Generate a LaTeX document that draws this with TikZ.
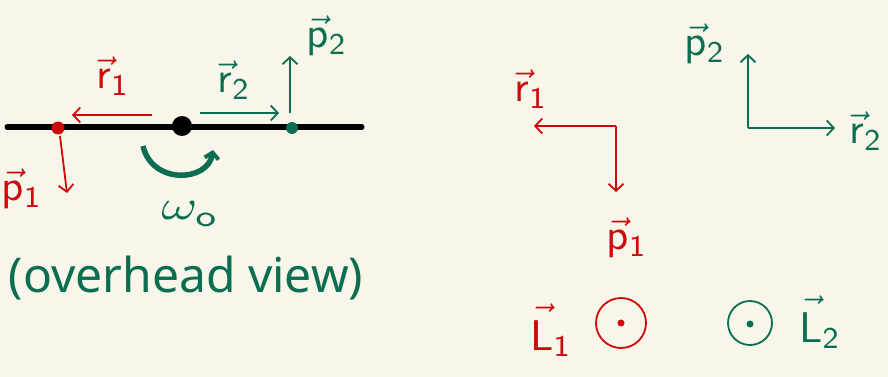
\documentclass[tikz,border=0pt]{standalone}
\usepackage{fontspec}
\setmainfont{Noto Sans}
\usetikzlibrary{arrows.meta}
\definecolor{bg}{HTML}{F8F6EA}
\definecolor{hred}{HTML}{CC0A0A}
\definecolor{hgreen}{HTML}{0B6E50}
\newcommand{\hv}[2]{\scalebox{4.3}{$\vec{\mathsf{#1}}_{\mathsf{#2}}$}}
\newcommand{\hL}[1]{\scalebox{4.3}{$\vec{\raisebox{0pt}[1.15\height]{$\mathsf{L}$}}_{\mathsf{#1}}$}}
\tikzset{
  vec/.style={line width=1.8pt,-{Straight Barb[length=7pt,width=15pt,line width=1.8pt]}},
  lbl/.style={inner sep=0pt},
  dotp/.style={circle,inner sep=0pt,minimum size=#1},
}
\begin{document}
\begin{tikzpicture}[x=1pt,y=-1pt]
\useasboundingbox[fill=bg] (0,0) rectangle (888,377);
% left: rod
\coordinate (rodL) at (7,127);
\coordinate (rodR) at (362,127);
\draw[line width=5pt,line cap=round] (rodL) -- (rodR);
\node[dotp=13pt,fill=hred] (m1) at (58,128) {};
\node[dotp=20pt,fill=black] (c) at (182,126) {};
\node[dotp=12pt,fill=hgreen] (m2) at (292,128) {};
% r vectors
\coordinate (r1s) at (152,115); \coordinate (r1e) at (72,115);
\draw[vec,hred] (r1s) -- (r1e);
\node[lbl,text=hred] (r1l) at (113,76) {\hv{r}{1}};
\coordinate (r2s) at (200,113); \coordinate (r2e) at (279,113);
\draw[vec,hgreen] (r2s) -- (r2e);
\node[lbl,text=hgreen] (r2l) at (234,80) {\hv{r}{2}};
% p vectors
\coordinate (p2s) at (290,113); \coordinate (p2e) at (290,56);
\draw[vec,hgreen] (p2s) -- (p2e);
\node[lbl,text=hgreen] (p2l) at (327,36) {\hv{p}{2}};
\coordinate (p1s) at (60,136); \coordinate (p1e) at (67,193);
\draw[vec,hred] (p1s) -- (p1e);
\node[lbl,text=hred] (p1l) at (22,189) {\hv{p}{1}};
% rotation
\coordinate (w1) at (143,146); \coordinate (w2) at (213,150);
\draw[hgreen,line width=5.5pt,-{Straight Barb[length=6pt,width=14pt,line width=4pt]}]
  (w1) .. controls (152,185) and (208,182) .. (w2);
\node[lbl,text=hgreen] (w) at (190,214) {\scalebox{5.5}[4.2]{$\omega_{\mathsf{o}}$}};
\node[inner sep=0pt,text=hgreen,font=\fontsize{48}{50}\selectfont] (ov) at (186,278) {(overhead view)};
% right: red
\coordinate (rc) at (616,126);
\coordinate (rr) at (534,126);
\coordinate (rp) at (616,192);
\draw[vec,hred] (rc) -- (rr);
\draw[vec,hred] (rc) -- (rp);
\node[lbl,text=hred] (r1b) at (531,89) {\hv{r}{1}};
\node[lbl,text=hred] (p1b) at (627,238) {\hv{p}{1}};
% right: green
\coordinate (gc) at (748,128);
\coordinate (gp) at (748,54);
\coordinate (gr) at (835,128);
\draw[vec,hgreen] (gc) -- (gp);
\draw[vec,hgreen] (gc) -- (gr);
\node[lbl,text=hgreen] (p2b) at (705,44) {\hv{p}{2}};
\node[lbl,text=hgreen] (r2b) at (866,131) {\hv{r}{2}};
% L vectors
\node[circle,draw=hred,line width=1.8pt,minimum size=50pt,inner sep=0pt] (L1c) at (621,323) {};
\node[dotp=7pt,fill=hred] (L1d) at (621,323) {};
\node[lbl,text=hred] (L1l) at (551,330) {\hL{1}};
\node[circle,draw=hgreen,line width=1.8pt,minimum size=44pt,inner sep=0pt] (L2c) at (750,323) {};
\node[dotp=7pt,fill=hgreen] (L2d) at (750,324) {};
\node[lbl,text=hgreen] (L2l) at (820,322) {\hL{2}};
\end{tikzpicture}
\end{document}
